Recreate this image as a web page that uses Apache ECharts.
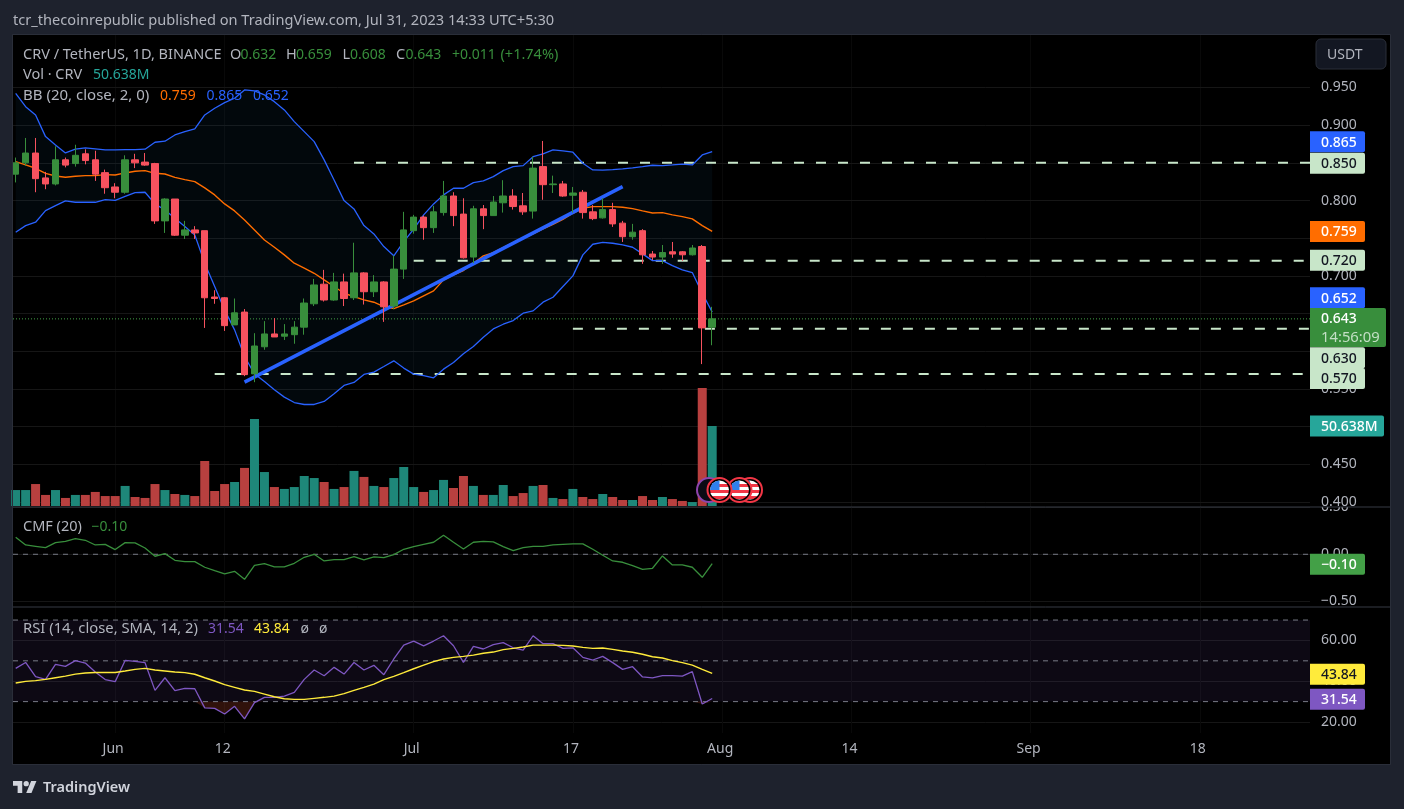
<!DOCTYPE html>
<html>
<head>
<meta charset="utf-8">
<title>CRV / TetherUS</title>
<script src="https://cdn.jsdelivr.net/npm/echarts@6/dist/echarts.min.js"></script>
<style>
html,body{margin:0;padding:0;background:#1e222d;}
#main{width:1404px;height:809px;}
</style>
</head>
<body>
<div id="main"></div>
<script>
// daily candles, first one is May 22 2023
var candleOpen=[.835,.850,.863,.830,.822,.854,.849,.862,.854,.837,.818,.811,.854,.851,.849,.773,.802,.754,.761,.760,.672,.671,.635,.652,.570,.606,.623,.620,.622,.632,.663,.689,.668,.692,.671,.704,.679,.692,.660,.709,.760,.778,.764,.784,.806,.782,.725,.789,.780,.797,.806,.793,.786,.845,.821,.822,.807,.811,.785,.777,.788,.770,.752,.760,.729,.725,.732,.732,.728,.739,.632];
var candleClose=[.850,.863,.829,.822,.854,.847,.860,.853,.835,.817,.811,.854,.850,.847,.773,.802,.754,.761,.757,.671,.670,.634,.651,.569,.607,.623,.619,.623,.632,.664,.688,.668,.692,.670,.704,.679,.692,.659,.709,.761,.778,.764,.785,.806,.780,.724,.789,.780,.798,.806,.792,.785,.843,.821,.822,.806,.810,.784,.776,.788,.769,.752,.758,.728,.725,.731,.729,.728,.737,.631,.643];
var candleLow=[.824,.846,.811,.815,.820,.844,.845,.848,.826,.809,.803,.809,.843,.846,.769,.757,.753,.749,.749,.631,.663,.627,.635,.567,.559,.602,.619,.615,.610,.622,.660,.666,.667,.660,.668,.662,.672,.639,.656,.696,.756,.748,.757,.780,.766,.723,.717,.762,.780,.784,.788,.781,.776,.801,.810,.805,.784,.776,.774,.776,.765,.745,.748,.716,.721,.716,.724,.720,.727,.583,.608];
var candleHigh=[.857,.883,.883,.838,.872,.857,.874,.868,.866,.841,.823,.860,.862,.863,.850,.803,.802,.773,.766,.760,.681,.672,.670,.656,.624,.640,.644,.636,.640,.670,.696,.708,.704,.703,.744,.705,.701,.693,.727,.785,.781,.780,.793,.826,.811,.803,.793,.794,.806,.827,.815,.810,.858,.879,.833,.826,.818,.814,.794,.803,.797,.773,.769,.762,.733,.741,.745,.733,.741,.741,.659];
// volume in millions
var volume=[10.1,10.1,13.9,7.0,10.1,5.1,7.0,7.0,8.9,6.3,6.3,12.7,5.7,5.1,13.9,10.1,7.6,7.0,6.3,28.5,9.5,13.9,15.2,24.1,55.1,21.5,12.0,10.8,12.0,19.0,17.7,15.2,10.8,12.0,22.2,18.4,12.7,12.0,17.7,24.7,12.0,8.9,10.1,16.5,11.4,19.0,12.7,7.0,7.0,13.3,6.3,8.2,12.7,13.3,5.1,4.4,10.8,5.7,4.4,7.6,5.7,3.8,3.8,6.3,3.8,5.7,4.4,3.2,2.5,74.7,50.638];
// bollinger bands
var bbUpper=[.9423,.9245,.9135,.8848,.8738,.8631,.8681,.8698,.8685,.8671,.8671,.8675,.8675,.8681,.8773,.8787,.887,.8914,.895,.9135,.9224,.9298,.9357,.9467,.9454,.9401,.9312,.9202,.9047,.8914,.8781,.8539,.8273,.7999,.7889,.7667,.7557,.7389,.7266,.7455,.762,.7809,.7955,.8075,.8163,.8163,.8238,.826,.8317,.8397,.845,.8463,.8582,.8618,.8671,.8658,.8641,.8495,.8406,.8402,.841,.8419,.8433,.845,.8468,.8463,.8472,.8482,.8472,.8605,.865];
var bbBasis=[.8516,.8472,.8428,.8361,.8326,.8308,.8322,.833,.833,.8344,.8339,.8366,.8388,.8397,.8361,.8352,.8308,.8277,.8251,.8167,.8074,.7955,.7862,.7743,.761,.7477,.738,.7279,.7168,.7102,.7035,.6947,.6859,.677,.6726,.6682,.6651,.6593,.6567,.6616,.6669,.6735,.6801,.6947,.7013,.7071,.7168,.7265,.7309,.7376,.7442,.75,.7557,.7623,.7685,.7751,.7831,.7897,.7919,.7919,.7919,.791,.7893,.7862,.7835,.784,.7809,.7787,.7756,.7667,.759];
var bbLower=[.7579,.7667,.7712,.7866,.7933,.7995,.7977,.7977,.7977,.8012,.8003,.8056,.8105,.811,.7955,.7875,.7765,.7654,.7544,.7168,.6859,.6549,.6284,.593,.57,.5599,.5489,.5392,.532,.5294,.5294,.5334,.5436,.5546,.5586,.5692,.5724,.5798,.5873,.5777,.5697,.5678,.5648,.5763,.5851,.5966,.6063,.6187,.6297,.6359,.6408,.6505,.6536,.6651,.6717,.6859,.7,.7279,.742,.7446,.7433,.7411,.738,.7292,.7203,.7203,.7137,.708,.7044,.677,.652];
// chaikin money flow
var cmfValues=[.181,.099,.085,.071,.124,.138,.167,.149,.099,.106,.050,.124,.121,.067,-.021,.007,-.064,-.078,-.078,-.138,-.174,-.209,-.181,-.266,-.117,-.099,-.135,-.135,-.096,-.032,0,-.071,-.057,-.057,-.025,-.060,-.028,-.035,-.004,.053,.082,.106,.128,.202,.128,.057,.128,.138,.131,.082,.039,.071,.085,.085,.099,.106,.110,.110,.053,-.011,-.071,-.085,-.121,-.160,-.149,-.018,-.113,-.113,-.138,-.245,-.10];
// rsi and its moving average
var rsiValues=[46.3,49.2,42.2,40.9,48.3,47.3,50.1,48.9,44.5,40.8,39.8,50.2,49.7,49.1,35.5,41.7,35.4,36.5,36.3,26.9,26.7,23.9,27.7,21.5,29.5,32.1,32.1,32.7,34.5,40.9,45.5,42.7,46.8,43.5,49.2,45.5,47.8,43.2,50.9,57.7,59.7,57.3,59.7,62.3,57.4,49.2,57.1,55.8,57.9,58.9,56.4,55.3,62.3,58.4,58.4,56.1,56.4,51.7,50.4,52.2,49.1,45.8,47.1,42.1,41.6,42.7,42.7,42.5,44.7,28.8,31.54];
var rsiMa=[39.1,39.9,40.3,40.9,41.7,42.5,43.5,44,44.3,44.3,44.3,45,45.8,46.3,45.5,45,44.5,44.2,43.4,41.7,40.1,38.3,37,35.7,35,33.7,32.4,31.4,31.1,31.1,31.6,32.1,32.7,33.9,35.5,37,38.6,40.8,42.4,44.2,46.1,47.9,49.6,50.9,51.7,52.2,52.8,53.7,54.3,55.5,56.1,56.8,57.7,57.7,57.7,57.6,57.3,56.6,56.1,56.3,55.6,54.8,54.2,53.2,52,51.4,50.1,49.1,47.9,45.8,43.84];

// time axis, candle index -> label
var dateTicks=[10,21,40,56,71,84,102,119];
var dateLabels=['Jun','12','Jul','17','Aug','14','Sep','18'];
var priceTicks=[.4,.45,.5,.55,.6,.65,.7,.75,.8,.85,.9,.95];
var priceLabels=[.4,.45,.55,.7,.75,.8,.9,.95];
var cmfTicks=[-.5,0,.5];
var rsiTicks=[20,40,60];
var rsiBands=[70,50,30];
// horizontal levels: [first candle index, price]
var levels=[[34,.85],[40,.72],[56,.63],[20,.57]];
var trendLine=[[23,.559],[61,.8184]];
var lastClose=.643;

var FONT='"Noto Sans"';
var GRID_COLOR='#161616';
var TEXT_COLOR='#b2b5be';
var RED='#f7525f',GREEN='#388e3c';

function zip(arr){
	return arr.map(function(v,i){return [i,v];});
}
function hLine(xFrom,xTo,y){
	return [[xFrom,y],[xTo,y]];
}
var xMin=-0.27,xMax=130.08;

function xAxis(gridIndex,withLabels){
	return {
		type:'value',gridIndex:gridIndex,min:xMin,max:xMax,
		axisLine:{show:false},
		axisTick:{show:false,customValues:dateTicks},
		splitLine:{show:true,lineStyle:{color:'#090909',width:1}},
		axisLabel:{
			show:withLabels,customValues:dateTicks,margin:9,color:TEXT_COLOR,fontFamily:FONT,fontSize:14,
			padding:[0,4,0,0],
			formatter:function(v){return dateLabels[dateTicks.indexOf(v)];}
		}
	};
}
function yAxis(gridIndex,min,max,ticks,labels,digits,z){
	return {
		type:'value',gridIndex:gridIndex,min:min,max:max,position:'right',z:z,
		axisLine:{show:false},
		axisTick:{show:false,customValues:ticks},
		splitLine:{show:true,lineStyle:{color:GRID_COLOR,width:1}},
		axisLabel:{
			customValues:labels,margin:11,color:TEXT_COLOR,fontFamily:FONT,fontSize:14,align:'left',
			padding:[2,0,0,0],
			formatter:function(v){return (v<0?'\u2212':'')+Math.abs(v).toFixed(digits);}
		}
	};
}
function lineSeries(name,data,x,y,color,width,type,z){
	return {
		name:name,type:'line',xAxisIndex:x,yAxisIndex:y,data:data,showSymbol:false,symbol:'none',
		silent:true,z:z||2,lineStyle:{color:color,width:width,type:type||'solid'}
	};
}
// filled area between an upper and a lower edge, one value per candle
function bandSeries(name,upper,lower,axis,color,z){
	return {
		name:name,type:'custom',xAxisIndex:axis,yAxisIndex:axis,silent:true,z:z,
		data:[[0,lower[0]]],
		encode:{x:0,y:1},
		renderItem:function(params,api){
			var pts=[];
			upper.forEach(function(v,i){pts.push(api.coord([i,v]));});
			for(var i=lower.length-1;i>=0;i--){
				pts.push(api.coord([i,lower[i]]));
			}
			return {type:'polygon',shape:{points:pts},style:{fill:color}};
		}
	};
}

var series=[];
series.push(bandSeries('bbFill',bbUpper,bbLower,0,'rgba(33,150,243,0.05)',5));
levels.forEach(function(l,i){
	series.push(lineSeries('level'+i,hLine(l[0],xMax,l[1]),0,0,'#c8e6c9',2,[10,12],6));
});
series.push(lineSeries('last',hLine(xMin,xMax,lastClose),0,0,'#43a047',1,[1,2],6));
series.push(lineSeries('bbBasis',zip(bbBasis),0,0,'#ff6d00',1.4,'solid',7));
series.push(lineSeries('bbUpper',zip(bbUpper),0,0,'#2962ff',1.3,'solid',7));
series.push(lineSeries('bbLower',zip(bbLower),0,0,'#2962ff',1.3,'solid',7));
series.push(lineSeries('trend',trendLine,0,0,'#2962ff',3.5,'solid',8));
series.push({
	name:'CRV',type:'candlestick',xAxisIndex:0,yAxisIndex:0,z:9,barWidth:7,silent:true,
	data:candleOpen.map(function(o,i){return [i,o,candleClose[i],candleLow[i],candleHigh[i]];}),
	itemStyle:{color:GREEN,color0:RED,borderColor:GREEN,borderColor0:RED,borderWidth:1}
});
series.push({
	name:'Vol',type:'bar',xAxisIndex:1,yAxisIndex:1,barWidth:9,silent:true,z:6,
	data:zip(volume),
	itemStyle:{color:function(p){return candleClose[p.dataIndex]>=candleOpen[p.dataIndex]?'#1e8779':'#b8403f';}}
});
series.push(lineSeries('cmfZero',hLine(xMin,xMax,0),2,2,'#787b86',1,[5,5],2));
series.push(lineSeries('CMF',zip(cmfValues),2,2,GREEN,1.3,'solid',3));
rsiBands.forEach(function(b){
	series.push(lineSeries('rsiBand'+b,hLine(xMin,xMax,b),3,3,'#787b86',1,[5,5],2));
});
series[series.length-1].markArea={silent:true,itemStyle:{color:'rgba(126,87,194,0.1)'},
	data:[[{xAxis:xMin,yAxis:rsiBands[2]},{xAxis:xMax,yAxis:rsiBands[0]}]]};
// oversold shading under the 30 band
var oversoldEdge=rsiValues.map(function(v){return Math.min(v,rsiBands[2]);});
var oversoldTop=rsiValues.map(function(){return rsiBands[2];});
series.push(bandSeries('osFill',oversoldTop,oversoldEdge,3,'rgba(242,90,54,0.2)',2));
series.push(lineSeries('RSI',zip(rsiValues),3,3,'#7e57c2',1.3,'solid',3));
series.push(lineSeries('RSIMA',zip(rsiMa),3,3,'#ffeb3b',1.4,'solid',3));

// ---- non data furniture ----
function logoPoly(points){
	return {type:'polygon',z:22,silent:true,x:13,y:778.4,scaleX:.66,scaleY:.66,shape:{points:points},style:{fill:'#d1d4dc'}};
}
var graphics=[
	{type:'rect',z:-1,silent:true,shape:{x:13,y:35,width:1377,height:729},style:{fill:'#000'}},
	// top half of the cmf 0.50 label is cut by the pane edge
	{type:'rect',z:1,silent:true,shape:{x:1315,y:495,width:60,height:12},style:{fill:'#000'}},
	{type:'rect',z:20,silent:true,shape:{x:12.5,y:34.5,width:1378,height:730},style:{fill:null,stroke:'#2a2e39',lineWidth:1}},
	{type:'line',z:20,silent:true,shape:{x1:13,y1:507,x2:1390,y2:507},style:{stroke:'#363a45',lineWidth:1}},
	{type:'line',z:20,silent:true,shape:{x1:13,y1:607,x2:1390,y2:607},style:{stroke:'#363a45',lineWidth:1}},
	{type:'rect',z:21,silent:true,shape:{x:1316,y:39,width:70,height:30,r:5},style:{fill:'#131722',stroke:'#2a2e39',lineWidth:1}},
	{type:'text',z:22,silent:true,x:1327,y:55,style:{text:'USDT',fill:TEXT_COLOR,font:'14px '+FONT,verticalAlign:'middle'}},
	{type:'text',z:22,silent:true,x:13,y:21,style:{text:'tcr_thecoinrepublic published on TradingView.com, Jul 31, 2023 14:33 UTC+5:30',fill:TEXT_COLOR,font:'14.6px '+FONT,verticalAlign:'middle'}},
	logoPoly([[14,22],[7,22],[7,11],[0,11],[0,4],[14,4]]),
	logoPoly([[28,22],[20,22],[27.5,4],[35.5,4]]),
	{type:'circle',z:22,silent:true,x:13,y:778.4,scaleX:.66,scaleY:.66,shape:{cx:20,cy:8,r:4},style:{fill:'#d1d4dc'}},
	{type:'text',z:22,silent:true,x:43,y:788,style:{text:'TradingView',fill:'#d1d4dc',font:'600 14.5px '+FONT,verticalAlign:'middle'}}
];
function label(text,x,y,color,size){
	graphics.push({type:'text',z:22,silent:true,x:x,y:y,style:{text:text,fill:color,font:(size||14)+'px '+FONT,verticalAlign:'middle'}});
}
label('CRV / TetherUS, 1D, BINANCE',23,55,TEXT_COLOR,14.5);
label('O',230,55,TEXT_COLOR,14.5);
label('0.632',240.5,55,GREEN);
label('H',286,55,TEXT_COLOR,14.5);
label('0.659',296,55,GREEN);
label('L',342.5,55,TEXT_COLOR,14.5);
label('0.608',350,55,GREEN);
label('C',396,55,TEXT_COLOR,14.5);
label('0.643',405.5,55,GREEN);
label('+0.011',452,55,GREEN);
label('(+1.74%)',500.5,55,GREEN,14.5);
label('Vol \u00b7 CRV',23,75,TEXT_COLOR,14.5);
label('50.638M',93,75,'#26a69a');
label('BB (20, close, 2, 0)',23,96,TEXT_COLOR,15);
label('0.759',160,96,'#ff6d00');
label('0.865',206.5,96,'#2962ff');
label('0.652',253,96,'#2962ff');
label('CMF (20)',23,527,TEXT_COLOR,14.5);
label('\u22120.10',91.5,527,GREEN);
label('RSI (14, close, SMA, 14, 2)',23,629,TEXT_COLOR,14.8);
label('31.54',208,629,'#7e57c2');
label('43.84',254,629,'#ffeb3b');
label('\u00f8',300.5,629,TEXT_COLOR);
label('\u00f8',319,629,TEXT_COLOR);

// price scale tags, pushed apart the way the scale does it
function tag(text,y,bg,fg,w){
	graphics.push({type:'rect',z:23,silent:true,shape:{x:1310,y:y-10.5,width:w||55,height:21,r:[0,2,2,0]},style:{fill:bg}});
	graphics.push({type:'text',z:24,silent:true,x:1321,y:y+1,style:{text:text,fill:fg,font:'500 14px '+FONT,verticalAlign:'middle'}});
}
tag('0.865',141.7,'#2962ff','#fff');
tag('0.850',163.3,'#c8e6c9','#131722');
tag('0.759',231.5,'#ff6d00','#fff');
tag('0.720',260.3,'#c8e6c9','#131722');
tag('0.652',297.7,'#2962ff','#fff');
tag('0.630',357.7,'#c8e6c9','#131722');
tag('0.570',378.5,'#c8e6c9','#131722');
tag('50.638M',426,'#26a69a','#fff',74);
tag('\u22120.10',564.3,'#43a047','#fff');
tag('43.84',674.3,'#ffeb3b','#131722');
tag('31.54',699.3,'#7e57c2','#fff');
graphics.push({type:'rect',z:23,silent:true,shape:{x:1310,y:308,width:76,height:39,r:[0,2,2,0]},style:{fill:GREEN}});
graphics.push({type:'text',z:24,silent:true,x:1321,y:319,style:{text:'0.643',fill:'#fff',font:'500 14px '+FONT,verticalAlign:'middle'}});
graphics.push({type:'text',z:24,silent:true,x:1321,y:338,style:{text:'14:56:09',fill:'#c3dfc5',font:'14.8px '+FONT,verticalAlign:'middle'}});

// event badges on the volume baseline
var stripes={type:'linear',x:0,y:0,x2:0,y2:1,colorStops:[
	{offset:0,color:'#fff'},{offset:.2,color:'#fff'},{offset:.2,color:'#f23645'},{offset:.35,color:'#f23645'},
	{offset:.35,color:'#fff'},{offset:.5,color:'#fff'},{offset:.5,color:'#f23645'},{offset:.65,color:'#f23645'},
	{offset:.65,color:'#fff'},{offset:.8,color:'#fff'},{offset:.8,color:'#f23645'},{offset:.95,color:'#f23645'},
	{offset:.95,color:'#fff'},{offset:1,color:'#fff'}
]};
function flag(cx,z){
	graphics.push({type:'circle',z:z,silent:true,shape:{cx:cx,cy:490,r:12},style:{fill:'#000',stroke:'#f23645',lineWidth:2}});
	graphics.push({type:'circle',z:z,silent:true,shape:{cx:cx,cy:490,r:9.5},style:{fill:stripes}});
	graphics.push({type:'sector',z:z,silent:true,shape:{cx:cx,cy:490,r:9.5,r0:0,startAngle:Math.PI,endAngle:Math.PI*1.5},style:{fill:'#2f80ed'}});
}
graphics.push({type:'circle',z:10,silent:true,shape:{cx:709,cy:490,r:12},style:{fill:'#0b0b14',stroke:'#8e44ad',lineWidth:2}});
flag(750,11);
flag(739.5,12);
flag(719.5,13);

var chart=echarts.init(document.getElementById('main'));
chart.setOption({
	animation:false,
	backgroundColor:'#1e222d',
	grid:[
		{left:13,width:1297,top:35,height:472},
		{left:13,width:1297,top:35,height:471},
		{left:13,width:1297,top:507,height:100},
		{left:13,width:1297,top:607,height:126}
	],
	xAxis:[xAxis(0,false),xAxis(1,false),xAxis(2,false),xAxis(3,true)],
	yAxis:[
		yAxis(0,.3934,1.0196,priceTicks,priceLabels,3,5),
		{type:'value',gridIndex:1,min:0,max:298.1,show:false,splitLine:{show:false}},
		yAxis(2,-.561,.503,cmfTicks,cmfTicks,2,0),
		yAxis(3,14.6,76.4,rsiTicks,rsiTicks,2,0)
	],
	series:series,
	graphic:graphics
});
</script>
</body>
</html>
